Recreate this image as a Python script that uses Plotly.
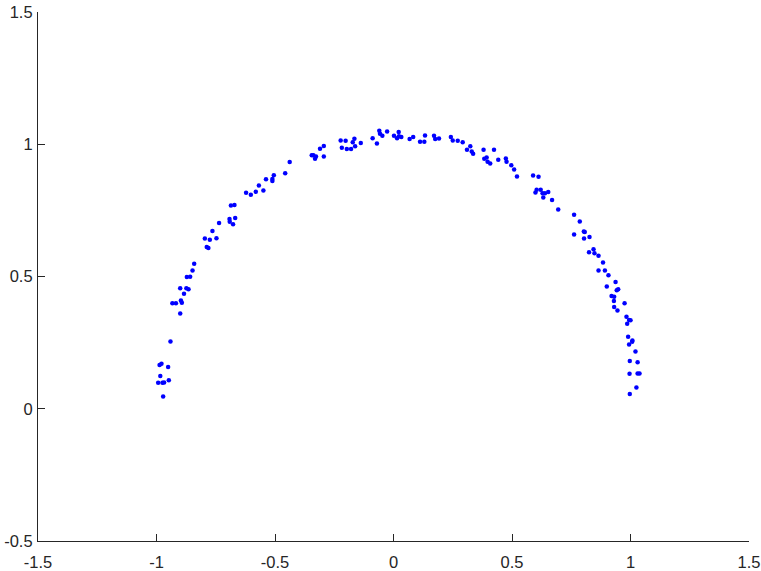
import plotly.graph_objects as go

# points (left arm, top, right arm)
x_vals = [
    -0.438, -0.457, -0.505, -0.511, -0.511, -0.538, -0.568, -0.549, -0.581, -0.602,
    -0.622, -0.671, -0.686, -0.668, -0.692, -0.691, -0.677, -0.736, -0.764, -0.796,
    -0.775, -0.747, -0.788, -0.781, -0.841, -0.848, -0.872, -0.858, -0.900, -0.874,
    -0.865, -0.884, -0.897, -0.893, -0.933, -0.918, -0.900, -0.941, -0.987, -0.979,
    -0.951, -0.984, -0.948, -0.993, -0.975, -0.968, -0.972,
    -0.345, -0.338, -0.331, -0.327, -0.310, -0.294, -0.294, -0.223, -0.202, -0.218,
    -0.197, -0.179, -0.172, -0.165, -0.162, -0.138, -0.088, -0.070, -0.060, -0.057,
    -0.047, -0.027, 0.002, 0.015, 0.022, 0.023, 0.033, 0.068, 0.083, 0.112,
    0.130, 0.133, 0.171, 0.176, 0.192, 0.242, 0.250, 0.271, 0.292, 0.310,
    0.324, 0.330, 0.336, 0.380, 0.424, 0.383, 0.393, 0.397, 0.408, 0.442,
    0.474, 0.477, 0.497, 0.509, 0.521,
    0.589, 0.612, 0.604, 0.599, 0.621, 0.629, 0.639, 0.653, 0.632, 0.669,
    0.695, 0.762, 0.786, 0.762, 0.803, 0.807, 0.804, 0.827, 0.844, 0.825,
    0.848, 0.865, 0.884, 0.865, 0.892, 0.907, 0.937, 0.900, 0.942, 0.948,
    0.920, 0.931, 0.930, 0.975, 0.931, 0.945, 0.983, 0.994, 1.000, 0.986,
    0.990, 1.008, 1.007, 0.994, 1.021, 0.997, 1.030, 0.996, 1.030, 1.038,
    1.025, 0.997,
]
y_vals = [
    0.933, 0.890, 0.883, 0.869, 0.861, 0.868, 0.844, 0.825, 0.820, 0.809,
    0.817, 0.770, 0.768, 0.721, 0.717, 0.707, 0.698, 0.702, 0.672, 0.644,
    0.639, 0.645, 0.612, 0.608, 0.548, 0.523, 0.498, 0.499, 0.456, 0.456,
    0.452, 0.435, 0.409, 0.401, 0.399, 0.399, 0.360, 0.254, 0.165, 0.170,
    0.158, 0.124, 0.108, 0.098, 0.098, 0.099, 0.046,
    0.958, 0.958, 0.945, 0.954, 0.983, 0.993, 0.954, 1.014, 1.013, 0.987,
    0.982, 0.982, 1.008, 1.021, 0.992, 1.005, 1.023, 1.003, 1.051, 1.040,
    1.032, 1.048, 1.032, 1.023, 1.046, 1.030, 1.027, 1.020, 1.027, 1.009,
    1.009, 1.033, 1.032, 1.020, 1.022, 1.027, 1.014, 1.013, 1.008, 0.979,
    0.992, 0.973, 0.964, 0.979, 0.979, 0.945, 0.950, 0.934, 0.927, 0.941,
    0.946, 0.934, 0.921, 0.905, 0.878,
    0.882, 0.877, 0.828, 0.818, 0.828, 0.815, 0.815, 0.819, 0.799, 0.789,
    0.753, 0.733, 0.708, 0.659, 0.670, 0.668, 0.644, 0.649, 0.603, 0.592,
    0.588, 0.578, 0.553, 0.523, 0.523, 0.505, 0.479, 0.462, 0.448, 0.452,
    0.426, 0.423, 0.407, 0.399, 0.385, 0.371, 0.348, 0.336, 0.335, 0.321,
    0.272, 0.258, 0.253, 0.243, 0.216, 0.181, 0.176, 0.132, 0.133, 0.133,
    0.080, 0.056,
]

x_ticks = [-1.5, -1, -0.5, 0, 0.5, 1, 1.5]
x_labels = ["-1.5", "-1", "-0.5", "0", "0.5", "1", "1.5"]
y_ticks = [-0.5, 0, 0.5, 1, 1.5]
y_labels = ["-0.5", "0", "0.5", "1", "1.5"]

axis_col = "#262626"

fig = go.Figure()
fig.add_trace(go.Scatter(x=x_vals, y=y_vals, mode="markers",
                         marker=dict(color="#0000ff", size=4.5, line=dict(width=0)),
                         showlegend=False, cliponaxis=False))

axis_style = dict(showline=True, linecolor=axis_col, linewidth=1.2,
                  ticks="inside", ticklen=7, tickcolor=axis_col, tickwidth=1,
                  showgrid=False, zeroline=False, automargin=False,
                  tickfont=dict(family="Liberation Sans, Arial, sans-serif", size=16.5, color=axis_col))

fig.update_layout(
    width=761, height=571,
    margin=dict(l=38, r=12, t=12, b=30, autoexpand=False),
    plot_bgcolor="white", paper_bgcolor="white",
    xaxis=dict(range=[-1.5, 1.5], tickvals=x_ticks, ticktext=x_labels,
               ticklabelstandoff=6, **axis_style),
    yaxis=dict(range=[-0.5, 1.5], tickvals=y_ticks, ticktext=y_labels,
               ticklabelstandoff=1, **axis_style),
)

# drop the page's default body margin so the figure sits at the top-left corner
fig.write_html("out.html", config={"displayModeBar": False},
               post_script="document.body.style.margin = '0';")
